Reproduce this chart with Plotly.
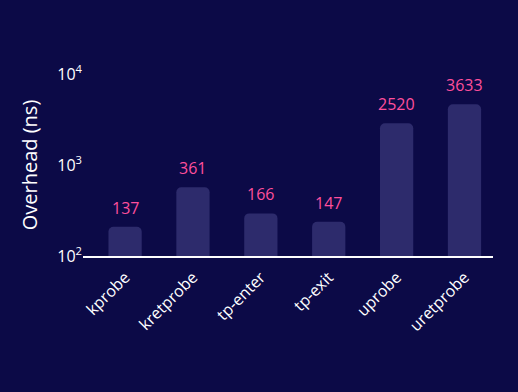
import math
import plotly.graph_objects as go

categories = ["kprobe", "kretprobe", "tp-enter", "tp-exit", "uprobe", "uretprobe"]
label_values = [137, 361, 166, 147, 2520, 3633]
# bar heights as drawn in the reference
bar_heights = [210, 569, 294, 238, 2873, 4645]

tick_vals = [100, 1000, 10000]
tick_text = ["10<sup>2</sup>", "10<sup>3</sup>", "10<sup>4</sup>"]

BG = "#0c0a47"
BAR = "#2d2b6c"
PINK = "#ff4f9c"
FONT = "Open Sans"

fig = go.Figure()
fig.add_trace(go.Bar(
    x=categories, y=bar_heights,
    marker=dict(color=BAR, line=dict(width=0)),
    hoverinfo="skip",
))

for c, h, v in zip(categories, bar_heights, label_values):
    fig.add_annotation(x=c, y=math.log10(h), xref="x", yref="y", text=str(v),
                       showarrow=False, yanchor="bottom", yshift=6,
                       font=dict(family=FONT, size=16, color=PINK))

fig.update_layout(
    width=518, height=392,
    margin=dict(l=83, r=25, t=74, b=136),
    paper_bgcolor=BG, plot_bgcolor=BG,
    bargap=0.51, barcornerradius=5,
    showlegend=False,
    font=dict(family=FONT, color="white"),
    xaxis=dict(
        range=[-0.62, 5.42], showgrid=False, zeroline=False,
        showline=True, linecolor="white", linewidth=1.5,
        tickangle=-45, ticks="outside", ticklen=4, tickcolor=BG,
        tickfont=dict(family=FONT, size=16, color="white"),
    ),
    yaxis=dict(
        type="log", range=[2, 4], showgrid=False, zeroline=False, showline=False,
        tickvals=tick_vals, ticktext=tick_text, ticks="",
        tickfont=dict(family=FONT, size=16, color="white"),
        title=dict(text="Overhead (ns)", standoff=14,
                   font=dict(family=FONT, size=20, color="white")),
    ),
)

fig.write_html("out.html", config={"displayModeBar": False},
               post_script="document.body.style.margin='0';")
